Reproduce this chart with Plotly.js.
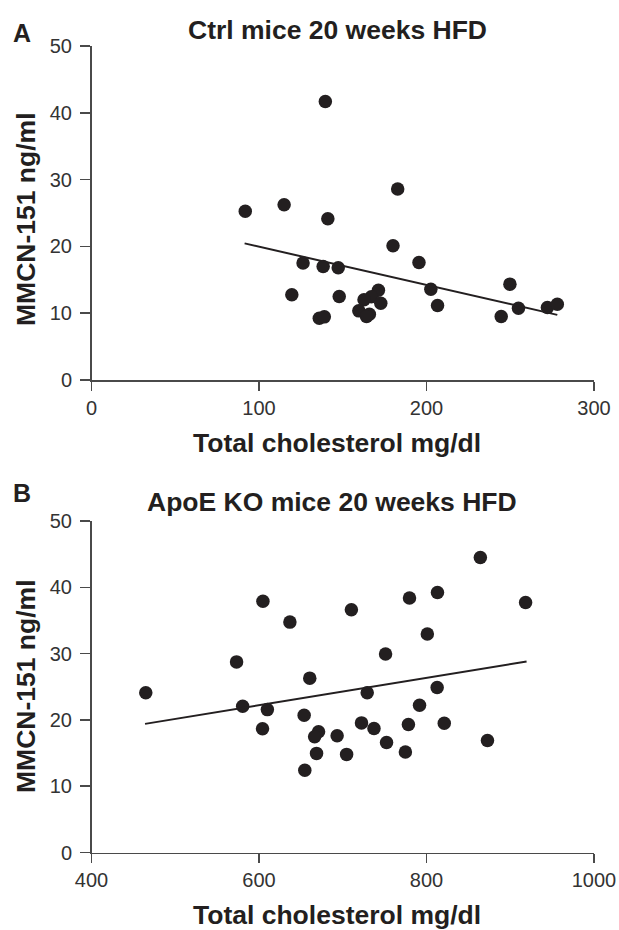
<!DOCTYPE html>
<html>
<head>
<meta charset="utf-8">
<script src="https://cdn.plot.ly/plotly-3.0.1.min.js"></script>
<style>
html,body{margin:0;padding:0;background:#fff;}
#chart{width:619px;height:930px;}
</style>
</head>
<body>
<div id="chart"></div>
<script>
// Panel A: Ctrl mice 20 weeks HFD
const ctrlCholesterol = [139.6, 91.8, 115.0, 141.1, 182.8, 180.0, 195.5, 126.3, 138.3, 147.3,
  119.6, 147.9, 171.3, 167.1, 162.7, 172.7, 159.6, 165.9, 164.2, 136.0,
  139.0, 202.6, 206.6, 249.8, 244.6, 254.9, 272.2, 278.1];
const ctrlMMCN = [41.7, 25.25, 26.25, 24.15, 28.6, 20.1, 17.6, 17.5, 17.0, 16.8,
  12.75, 12.5, 13.45, 12.45, 12.0, 11.5, 10.35, 9.85, 9.5, 9.25,
  9.45, 13.6, 11.15, 14.35, 9.5, 10.75, 10.85, 11.35];
const ctrlFitX = [91.4, 278.1];
const ctrlFitY = [20.45, 9.75];

// Panel B: ApoE KO mice 20 weeks HFD
const apoeCholesterol = [864.3, 813.1, 779.7, 918.3, 604.7, 710.3, 636.9, 801.0, 751.1, 573.2,
  660.6, 464.8, 729.2, 812.7, 580.5, 610.0, 791.7, 653.9, 722.4, 737.3,
  778.4, 821.2, 604.2, 671.1, 666.4, 693.3, 752.3, 872.8, 668.7, 704.6,
  774.8, 654.7];
const apoeMMCN = [44.5, 39.2, 38.4, 37.7, 37.9, 36.6, 34.75, 32.95, 29.95, 28.75,
  26.3, 24.1, 24.1, 24.9, 22.05, 21.55, 22.2, 20.7, 19.55, 18.7,
  19.3, 19.5, 18.65, 18.2, 17.45, 17.6, 16.6, 16.9, 14.95, 14.8,
  15.15, 12.4];
const apoeFitX = [463.9, 919.5];
const apoeFitY = [19.4, 28.8];

const xTicksA = [0, 100, 200, 300];
const xTicksB = [400, 600, 800, 1000];
const yTicks = [0, 10, 20, 30, 40, 50];

const titleA = 'Ctrl mice 20 weeks HFD';
const titleB = 'ApoE KO mice 20 weeks HFD';
const xLabel = 'Total cholesterol mg/dl';
const yLabel = 'MMCN-151 ng/ml';

const W = 619, H = 930;
const px = v => v / W;
const py = v => 1 - v / H;

const ink = '#231f20';
const axisCol = '#4a4a4a';
const FONT = 'Liberation Sans, Arial, sans-serif';

const marker = {size: 13.5, color: ink, line: {width: 0}};
const traces = [
  {x: ctrlCholesterol, y: ctrlMMCN, type: 'scatter', mode: 'markers', marker: marker, xaxis: 'x', yaxis: 'y', cliponaxis: false, hoverinfo: 'none'},
  {x: ctrlFitX, y: ctrlFitY, type: 'scatter', mode: 'lines', line: {color: ink, width: 2}, xaxis: 'x', yaxis: 'y', hoverinfo: 'none'},
  {x: apoeCholesterol, y: apoeMMCN, type: 'scatter', mode: 'markers', marker: marker, xaxis: 'x2', yaxis: 'y2', cliponaxis: false, hoverinfo: 'none'},
  {x: apoeFitX, y: apoeFitY, type: 'scatter', mode: 'lines', line: {color: ink, width: 2}, xaxis: 'x2', yaxis: 'y2', hoverinfo: 'none'}
];

const tickFont = {family: FONT, size: 20, color: '#333'};
function xaxisDef(range, ticks, anchor) {
  return {
    domain: [px(91.5), px(594)], range: range, tickvals: ticks, ticktext: ticks.map(String),
    showline: true, linecolor: axisCol, linewidth: 1.5, ticks: 'outside', ticklen: 9, tickwidth: 1.5, tickcolor: axisCol,
    showgrid: false, zeroline: false, tickfont: tickFont, anchor: anchor, automargin: false, fixedrange: true
  };
}
function yaxisDef(domain, anchor) {
  return {
    domain: domain, range: [0, 50], tickvals: yTicks, ticktext: yTicks.map(String),
    showline: true, linecolor: axisCol, linewidth: 1.5, ticks: 'outside', ticklen: 10, tickwidth: 1.5, tickcolor: axisCol,
    showgrid: false, zeroline: false, tickfont: tickFont, anchor: anchor, automargin: false, fixedrange: true,
    ticklabelstandoff: 4
  };
}

const boldFont = sz => ({family: FONT, size: sz, color: ink, weight: 'bold'});
function ann(text, x, y, sz, extra) {
  return Object.assign({text: '<b>' + text + '</b>', x: px(x), y: py(y), xref: 'paper', yref: 'paper',
    showarrow: false, xanchor: 'center', yanchor: 'middle', font: boldFont(sz)}, extra || {});
}

const layout = {
  width: W, height: H,
  margin: {l: 0, r: 0, t: 0, b: 0},
  paper_bgcolor: '#fff', plot_bgcolor: 'rgba(0,0,0,0)',
  showlegend: false,
  xaxis: xaxisDef([0, 300], xTicksA, 'y'),
  yaxis: yaxisDef([py(380), py(46)], 'x'),
  xaxis2: xaxisDef([400, 1000], xTicksB, 'y2'),
  yaxis2: yaxisDef([py(852.5), py(521)], 'x2'),
  annotations: [
    ann('A', 22, 33, 25),
    ann('B', 22, 493, 25),
    ann(titleA, 337, 30, 26.5),
    ann(titleB, 332, 502, 26.5),
    ann(xLabel, 337, 443, 26.5),
    ann(xLabel, 337, 915, 26.5),
    ann(yLabel, 26, 219, 26.5, {textangle: -90}),
    ann(yLabel, 26, 686, 26.5, {textangle: -90})
  ]
};

Plotly.newPlot('chart', traces, layout, {staticPlot: true, displayModeBar: false});
</script>
</body>
</html>
